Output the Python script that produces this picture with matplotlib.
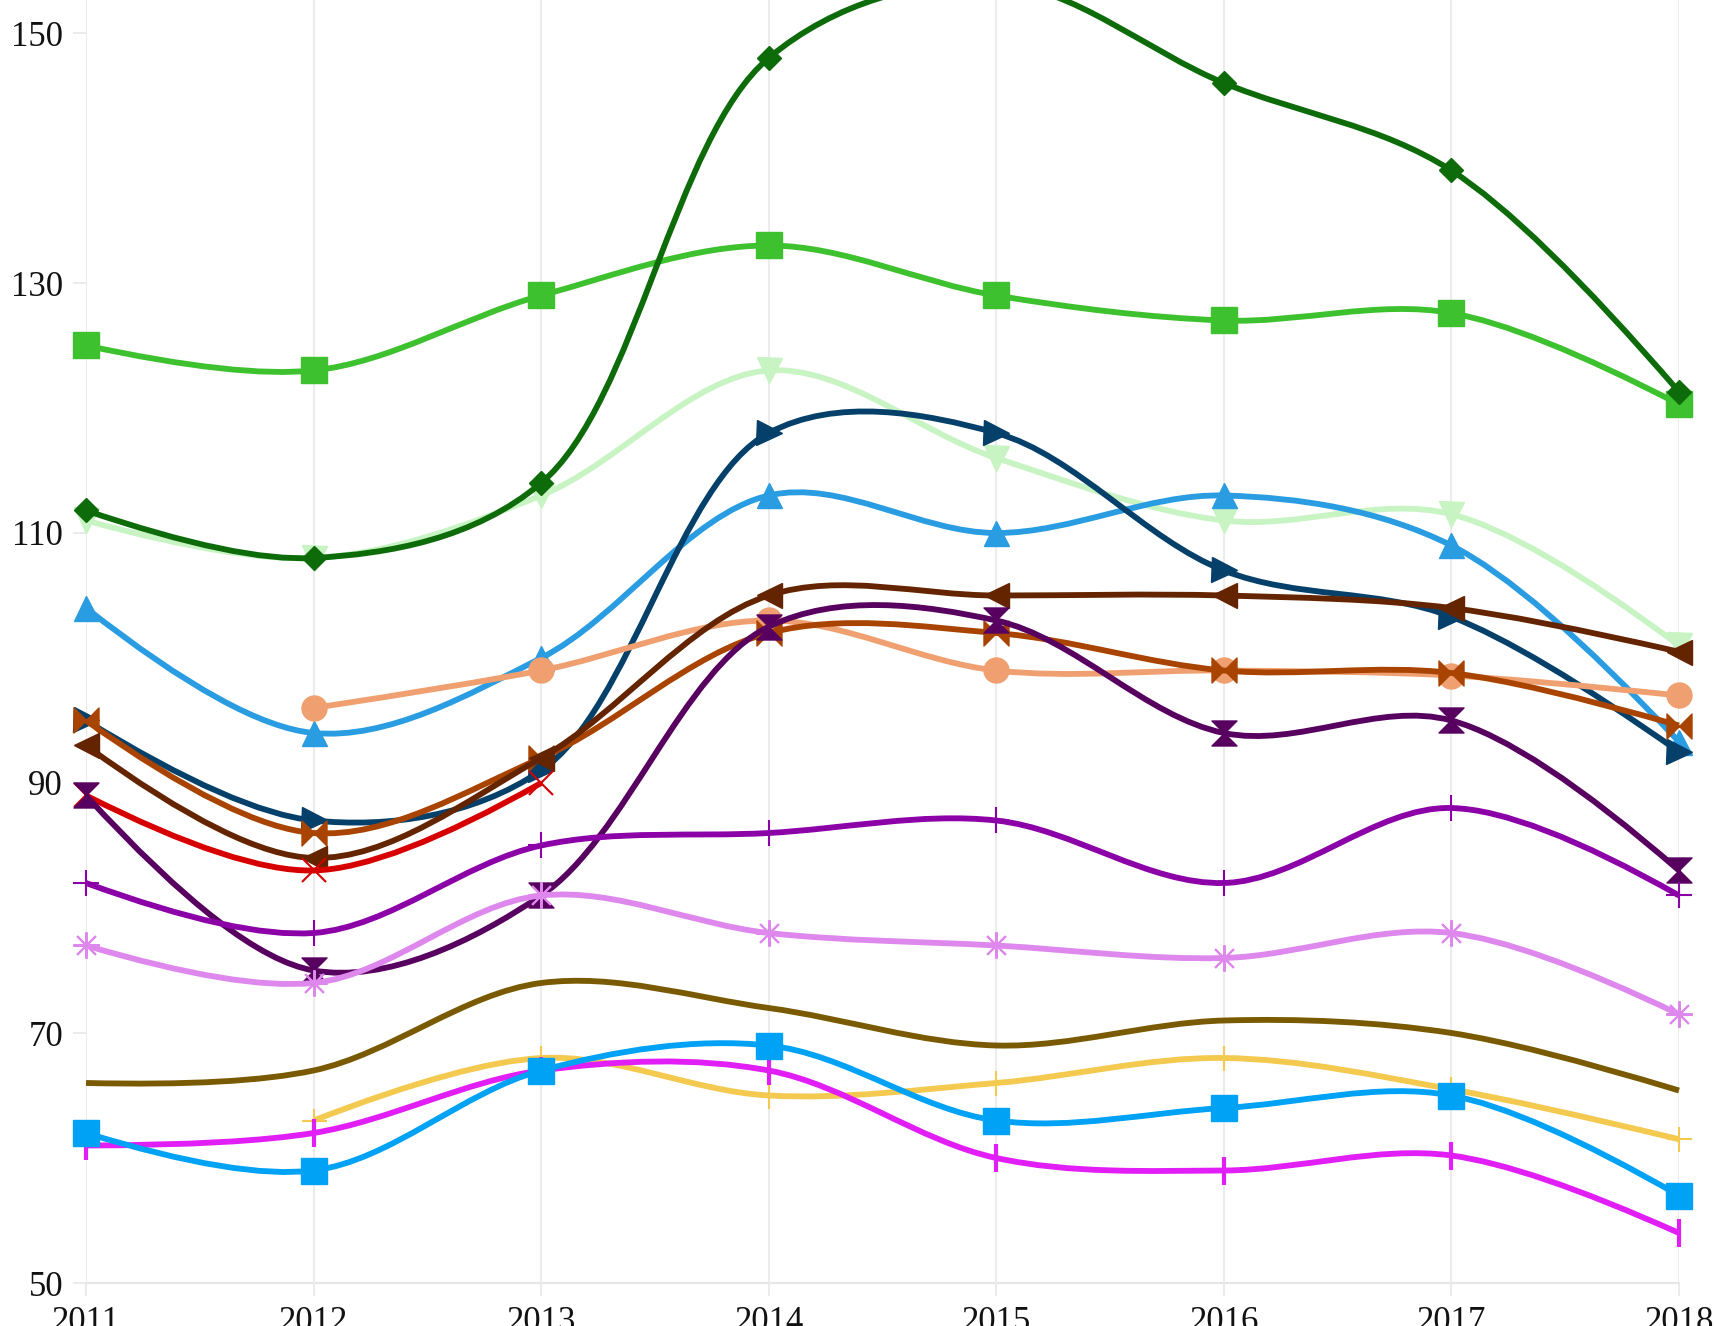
import numpy as np
import matplotlib
matplotlib.use("Agg")
import matplotlib.pyplot as plt
from matplotlib.path import Path
from matplotlib.patches import PathPatch

years = [2011, 2012, 2013, 2014, 2015, 2016, 2017, 2018]
y_ticks = [50, 70, 90, 110, 130, 150]

light_green = [111, 108, 113, 123, 116, 111, 111.5, 101]
green = [125, 123, 129, 133, 129, 127, 127.6, 120.3]
dark_green = [111.8, 108, 114, 148, 154, 146, 139, 121.3]
blue = [104, 94, 100, 113, 110, 113, 109, 93.3]
navy = [95, 87, 91, 118, 118, 107, 103.3, 92.5]
salmon = [None, 96, 99, 103, 99, 99, 98.6, 97]
orange_brown = [95, 86, 92, 102, 102, 99, 98.8, 94.6]
dark_brown = [93, 84, 92, 105, 105, 105, 104, 100.5]
red = [89, 83, 90, None, None, None, None, None]
dark_purple = [89, 75, 81, 102.5, 103, 94, 95, 83]
purple = [82, 78, 85, 86, 87, 82, 88, 81]
lilac = [77, 74, 81, 78, 77, 76, 78, 71.5]
olive = [66, 67, 74, 72, 69, 71, 70, 65.4]
yellow = [None, 63, 68, 65, 66, 68, 65.5, 61.5]
magenta = [61, 62, 67, 67, 60, 59, 60.2, 54]
sky_blue = [62, 59, 67, 69, 63, 64, 65, 57]

bowtie = Path([(-1, -1), (0, 0), (-1, 1), (-1, -1), (1, -1), (0, 0), (1, 1), (1, -1)],
              [Path.MOVETO, Path.LINETO, Path.LINETO, Path.CLOSEPOLY,
               Path.MOVETO, Path.LINETO, Path.LINETO, Path.CLOSEPOLY])
hourglass = Path([(-1, 1), (0, 0), (1, 1), (-1, 1), (-1, -1), (0, 0), (1, -1), (-1, -1)],
                 [Path.MOVETO, Path.LINETO, Path.LINETO, Path.CLOSEPOLY,
                  Path.MOVETO, Path.LINETO, Path.LINETO, Path.CLOSEPOLY])

series = [
    (light_green, '#c8f4c4', 'v', 18, 1),
    (green, '#3ec12e', 's', 19, 1),
    (dark_green, '#0d6b0a', 'D', 12, 1),
    (blue, '#2a9ce2', '^', 18, 1),
    (navy, '#05406a', '>', 18, 1),
    (salmon, '#f0a070', 'o', 18, 1),
    (orange_brown, '#a94300', bowtie, 18, 1),
    (dark_brown, '#652400', '<', 18, 1),
    (red, '#d60000', 'x', 17, 1.5),
    (dark_purple, '#58005f', hourglass, 18, 1),
    (purple, '#8c00a8', '+', 19, 1.5),
    (lilac, '#de88ee', (8, 2, 0), 19, 1.5),
    (olive, '#7a5a00', None, 0, 0),
    (yellow, '#f4c94f', '+', 18, 1.5),
    (magenta, '#e21ef6', '|', 20, 3),
    (sky_blue, '#00a2f6', 's', 19, 1),
]

W, H, DPI = 1716, 1326, 100
fig = plt.figure(figsize=(W / DPI, H / DPI), dpi=DPI)
x0, x1 = 86, 1679
y_base = 1283
ax = fig.add_axes([x0 / W, (H - y_base) / H, (x1 - x0) / W, y_base / H])
ax.set_xlim(2011, 2018)
ax.set_ylim(50, 50 + y_base / 12.5)

for s in ax.spines.values():
    s.set_visible(False)
ax.axhline(50, color='#e6e6e6', lw=1.5, zorder=0, clip_on=False)
for yr in years:
    ax.axvline(yr, color='#ececec', lw=1.5, zorder=0)

ax.set_xticks(years)
ax.set_xticklabels([str(y) for y in years])
ax.set_yticks(y_ticks)
ax.set_yticklabels([str(v) for v in y_ticks])
ax.tick_params(axis='both', length=9.5, width=1.1, color='#e6e6e6', pad=7,
               labelsize=25, labelcolor='#111111')
for lab in ax.get_xticklabels() + ax.get_yticklabels():
    lab.set_fontfamily('Liberation Serif')

SMOOTH = 1.0


def make_tangent(p0, p1, p2, smooth=SMOOTH):
    d1 = p0 - p1
    d2 = p2 - p1
    d1a = np.hypot(*d1) ** 0.5
    d2a = np.hypot(*d2) ** 0.5
    num = (d2a * d2a * d1 - d1a * d1a * d2) * smooth
    den1 = 3 * d2a * (d1a + d2a)
    den2 = 3 * d1a * (d1a + d2a)
    return p1 + num / den1, p1 - num / den2


def spline_path(xs, ys):
    pts = ax.transData.transform(np.column_stack([xs, ys]))
    n = len(pts)
    if n < 3:
        verts = list(pts)
        codes = [Path.MOVETO] + [Path.LINETO] * (n - 1)
    else:
        tans = [make_tangent(pts[i - 1], pts[i], pts[i + 1]) for i in range(1, n - 1)]
        verts = [pts[0], tans[0][0], pts[1]]
        codes = [Path.MOVETO, Path.CURVE3, Path.CURVE3]
        for i in range(2, n - 1):
            verts += [tans[i - 2][1], tans[i - 1][0], pts[i]]
            codes += [Path.CURVE4] * 3
        verts += [tans[n - 3][1], pts[n - 1]]
        codes += [Path.CURVE3] * 2
    verts = ax.transData.inverted().transform(np.array(verts))
    return Path(verts, codes)


z = 2
for vals, color, marker, ms, mew in series:
    xs = np.array([y for y, v in zip(years, vals) if v is not None], dtype=float)
    ys = np.array([v for v in vals if v is not None], dtype=float)
    patch = PathPatch(spline_path(xs, ys), fill=False, edgecolor=color, lw=4.2,
                      capstyle='butt', joinstyle='round', zorder=z, clip_on=False)
    ax.add_patch(patch)
    if marker is not None:
        ax.plot(xs, ys, linestyle='none', marker=marker, markersize=ms,
                color=color, markeredgecolor=color, markeredgewidth=mew,
                zorder=z + 0.5, clip_on=False)
    z += 1

fig.savefig('out.png', dpi=DPI, facecolor='white')
